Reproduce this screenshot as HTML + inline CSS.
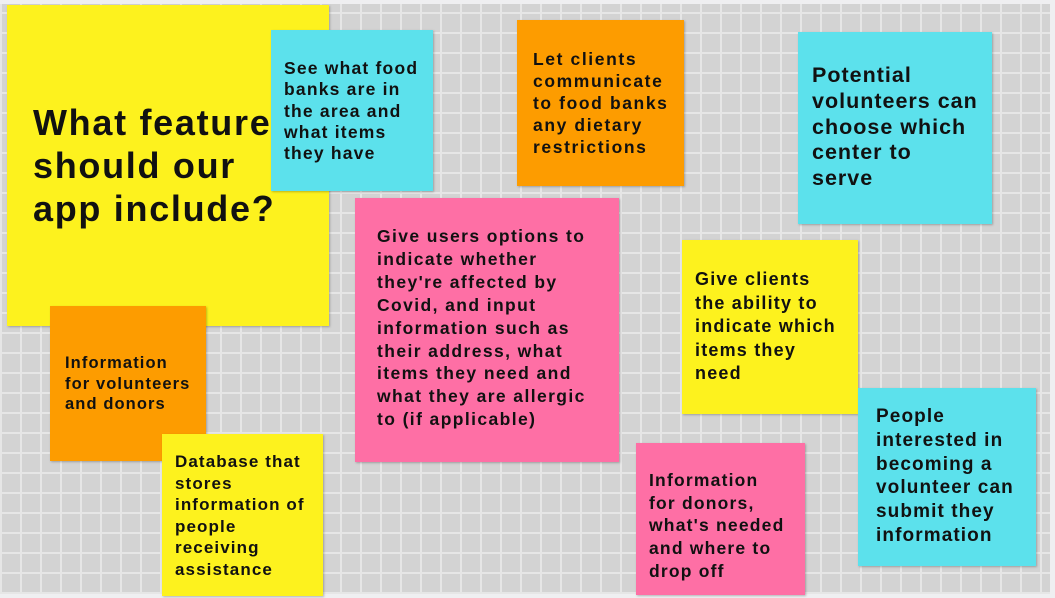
<!DOCTYPE html>
<html><head><meta charset="utf-8"><style>
html,body{margin:0;padding:0;width:1055px;height:598px;overflow:hidden;background:#efeff1}
#board{position:absolute;left:0;top:4px;width:1050px;height:590px;background-color:#d3d3d3;
background-image:linear-gradient(#e6e6e6 2px,transparent 2px),linear-gradient(90deg,#e6e6e6 2px,transparent 2px);
background-size:20px 20px;background-position:0 8px}
.n{position:absolute;box-shadow:1px 1px 2px rgba(0,0,0,.25);font-family:"Liberation Sans",sans-serif;font-weight:bold;color:#111;white-space:nowrap;overflow:hidden}
.n div{position:absolute;letter-spacing:1.4px}
.y{background:#fdf21e}.c{background:#5ce1ec}.o{background:#fd9c00}.p{background:#fe6fa5}
</style></head><body>
<div id="board"></div>
<div class="n y" style="left:7px;top:5px;width:322px;height:321px"><div style="left:26px;top:96px;font-size:36px;line-height:43px;letter-spacing:1.7px">What features<br>should our<br>app include?</div></div>
<div class="n o" style="left:50px;top:306px;width:156px;height:155px"><div style="left:15px;top:47px;font-size:16.5px;line-height:20.5px;letter-spacing:1.1px">Information<br>for volunteers<br>and donors</div></div>
<div class="n y" style="left:162px;top:434px;width:161px;height:162px"><div style="left:13px;top:17px;font-size:17px;line-height:21.5px;letter-spacing:1.1px">Database that<br>stores<br>information of<br>people<br>receiving<br>assistance</div></div>
<div class="n c" style="left:271px;top:30px;width:162px;height:161px"><div style="left:13px;top:28px;font-size:17.5px;line-height:21.3px;letter-spacing:1.2px">See what food<br>banks are in<br>the area and<br>what items<br>they have</div></div>
<div class="n o" style="left:517px;top:20px;width:167px;height:166px"><div style="left:16px;top:28px;font-size:17.5px;line-height:22px;letter-spacing:1.6px">Let clients<br>communicate<br>to food banks<br>any dietary<br>restrictions</div></div>
<div class="n c" style="left:798px;top:32px;width:194px;height:192px"><div style="left:14px;top:31px;font-size:21.5px;line-height:25.8px;letter-spacing:1px">Potential<br>volunteers can<br>choose which<br>center to<br>serve</div></div>
<div class="n p" style="left:355px;top:198px;width:264px;height:264px"><div style="left:22px;top:27px;font-size:17.5px;line-height:22.9px;letter-spacing:1.4px">Give users options to<br>indicate whether<br>they're affected by<br>Covid, and input<br>information such as<br>their address, what<br>items they need and<br>what they are allergic<br>to (if applicable)</div></div>
<div class="n y" style="left:682px;top:240px;width:176px;height:174px"><div style="left:13px;top:28px;font-size:18px;line-height:23.5px;letter-spacing:1.2px">Give clients<br>the ability to<br>indicate which<br>items they<br>need</div></div>
<div class="n p" style="left:636px;top:443px;width:169px;height:152px"><div style="left:13px;top:26px;font-size:17.5px;line-height:22.7px;letter-spacing:1.2px">Information<br>for donors,<br>what's needed<br>and where to<br>drop off</div></div>
<div class="n c" style="left:858px;top:388px;width:178px;height:178px"><div style="left:18px;top:17px;font-size:19px;line-height:23.8px;letter-spacing:1.1px">People<br>interested in<br>becoming a<br>volunteer can<br>submit they<br>information</div></div>
</body></html>
